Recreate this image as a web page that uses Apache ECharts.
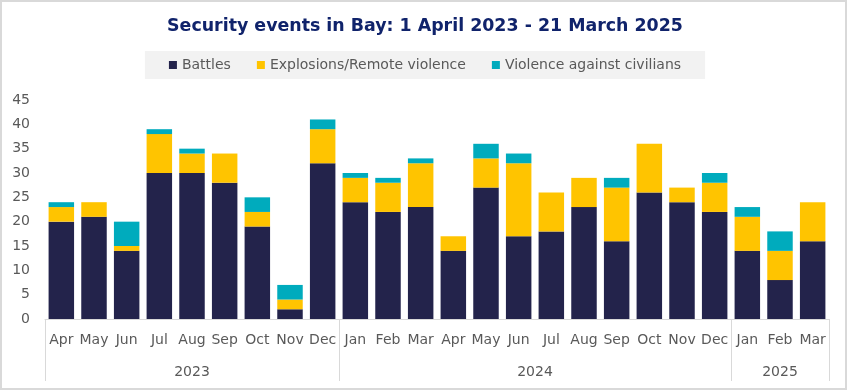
<!DOCTYPE html>
<html>
<head>
<meta charset="utf-8">
<script src="https://cdn.jsdelivr.net/npm/echarts@6/dist/echarts.min.js"></script>
<style>
  body { margin: 0; background: #fff; }
  #frame { position: absolute; left: 0; top: 0; width: 847px; height: 390px; box-sizing: border-box; border: 2px solid #D9D9D9; }
  #chart { position: absolute; left: 0; top: 0; width: 850px; height: 391px; }
</style>
</head>
<body>
<div id="frame"></div>
<div id="chart"></div>
<script>
// month labels, grouped by year
var months = ['Apr','May','Jun','Jul','Aug','Sep','Oct','Nov','Dec',
              'Jan','Feb','Mar','Apr','May','Jun','Jul','Aug','Sep','Oct','Nov','Dec',
              'Jan','Feb','Mar'];
var years = ['2023', '2024', '2025'];
var monthsPerYear = [9, 12, 3];

var battles    = [20,21,14,30,30,28,19,2,32, 24,22,23,14,27,17,18,23,16,26,24,22, 14,8,16];
var explosions = [3,3,1,8,4,6,3,2,7, 5,6,9,3,6,15,8,6,11,10,3,6, 7,6,8];
var civilians  = [1,0,5,1,1,0,3,3,2, 1,1,1,0,3,2,0,0,2,0,0,2, 2,4,0];

var yTicks = [0, 5, 10, 15, 20, 25, 30, 35, 40, 45];

// unique category keys, e.g. "Apr 2023"
var categories = [];
var bounds = [0];
var centers = [];
var k = 0;
years.forEach(function (y, i) {
    for (var j = 0; j < monthsPerYear[i]; j++) {
        categories.push(months[k] + ' ' + y);
        k++;
    }
    centers.push((bounds[i] + k) / 2);
    bounds.push(k);
});

var myChart = echarts.init(document.getElementById('chart'));
var option = {
    animation: false,
    title: {
        text: 'Security events in Bay: 1 April 2023 - 21 March 2025',
        left: 'center',
        top: 18,
        padding: 0,
        textStyle: {
            fontFamily: 'DejaVu Sans',
            fontWeight: 'bold',
            fontSize: 17.4,
            color: '#10236B'
        }
    },
    legend: {
        data: ['Battles', 'Explosions/Remote violence', 'Violence against civilians'],
        top: 51,
        left: 'center',
        padding: [7, 24, 7, 24],
        backgroundColor: '#F2F2F2',
        itemWidth: 8,
        itemHeight: 8,
        itemGap: 26,
        icon: 'rect',
        textStyle: {
            fontFamily: 'DejaVu Sans',
            fontSize: 14,
            color: '#595959'
        }
    },
    grid: {
        left: 45,
        right: 21,
        top: 100,
        bottom: 72
    },
    color: ['#23234B', '#FFC400', '#00ABBD'],
    xAxis: [
        {
            type: 'category',
            data: categories,
            axisLine: { lineStyle: { color: '#D9D9D9' } },
            axisTick: { show: false },
            axisLabel: {
                interval: 0,
                margin: 14,
                fontFamily: 'DejaVu Sans',
                fontSize: 14,
                color: '#595959',
                formatter: function (v) { return v.split(' ')[0]; }
            }
        },
        {
            type: 'value',
            position: 'bottom',
            min: 0,
            max: categories.length,
            axisLine: { show: false },
            splitLine: { show: false },
            axisTick: {
                show: true,
                customValues: bounds,
                length: 62,
                lineStyle: { color: '#D9D9D9' }
            },
            axisLabel: {
                customValues: centers,
                margin: 46,
                fontFamily: 'DejaVu Sans',
                fontSize: 14,
                color: '#595959',
                formatter: function (v) {
                    var i = centers.indexOf(v);
                    return i >= 0 ? years[i] : '';
                }
            }
        }
    ],
    yAxis: {
        type: 'value',
        min: yTicks[0],
        max: yTicks[yTicks.length - 1],
        interval: yTicks[1] - yTicks[0],
        axisLine: { show: false },
        axisTick: { show: false },
        splitLine: { show: false },
        axisLabel: {
            margin: 15,
            fontFamily: 'DejaVu Sans',
            fontSize: 14,
            color: '#595959'
        }
    },
    series: [
        {
            name: 'Battles',
            type: 'bar',
            stack: 'total',
            barCategoryGap: '22%',
            data: battles
        },
        {
            name: 'Explosions/Remote violence',
            type: 'bar',
            stack: 'total',
            barCategoryGap: '22%',
            data: explosions
        },
        {
            name: 'Violence against civilians',
            type: 'bar',
            stack: 'total',
            barCategoryGap: '22%',
            data: civilians
        }
    ]
};
myChart.setOption(option);
</script>
</body>
</html>
